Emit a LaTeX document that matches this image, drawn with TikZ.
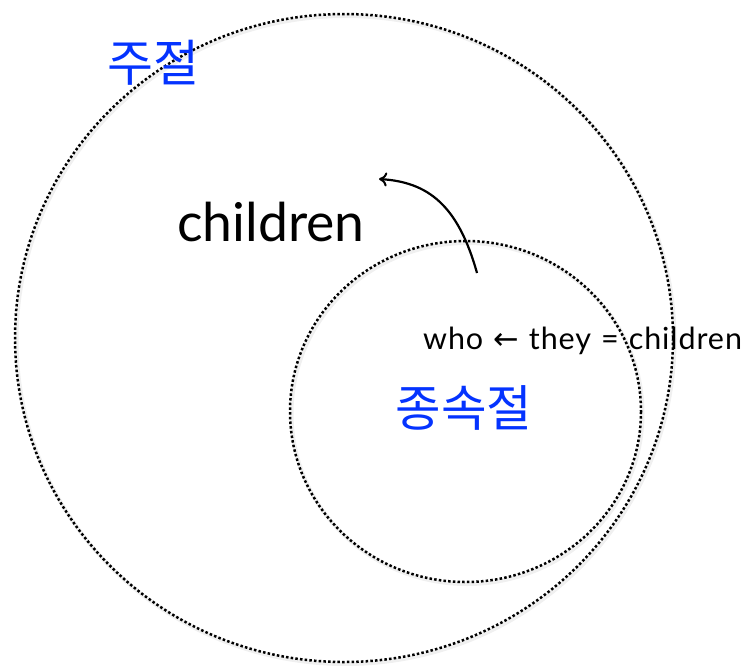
\documentclass[tikz,border=0pt]{standalone}
\usepackage{fontspec}
\setmainfont{Lato}
\newfontfamily\krfont{Noto Sans CJK KR}
\newfontfamily\symfont{DejaVu Sans}
\newfontfamily\widefont[LetterSpace=3,WordSpace={1.15}]{Lato}
\definecolor{kblue}{RGB}{4,51,255}
\usetikzlibrary{arrows.meta}
\begin{document}
\begin{tikzpicture}[x=1pt,y=-1pt,
  dotcircle/.style={line width=2.5pt, dash pattern=on 2.5pt off 2.2pt, black},
  shadowcircle/.style={line width=4pt, black!6},
  kor/.style={font=\krfont, text=kblue, inner sep=0pt},
  lat/.style={inner sep=0pt, text=black}]
\useasboundingbox (0,0) rectangle (751,665);
% shadows
\draw[shadowcircle] (345.5,340) ellipse [x radius=329, y radius=324];
\draw[shadowcircle] (467,413.5) ellipse [x radius=175.5, y radius=170.5];
% circles
\draw[dotcircle] (344,338) ellipse [x radius=329, y radius=324];
\draw[dotcircle] (465.5,411.5) ellipse [x radius=175.5, y radius=170.5];
% labels
\node[kor, font=\krfont\fontsize{50}{50}\selectfont] (main) at (153,63) {주절};
\node[kor, font=\krfont\fontsize{49.5}{50}\selectfont] (sub) at (464,408) {종속절};
\node[lat, anchor=base west, font=\fontsize{53.5}{54}\selectfont] (ch) at (177,241) {children};
\node[lat, anchor=base west, font=\widefont\fontsize{30.5}{31}\selectfont] (rel) at (423,349) {who {\symfont ←} they = children};
% arrow
\coordinate (s) at (477,273);
\coordinate (t) at (379,179);
\draw[line width=2.2pt, -{To[length=8pt,width=14pt,line width=2pt]}] (s) .. controls (458,205) and (428,182) .. (t);
\end{tikzpicture}
\end{document}
